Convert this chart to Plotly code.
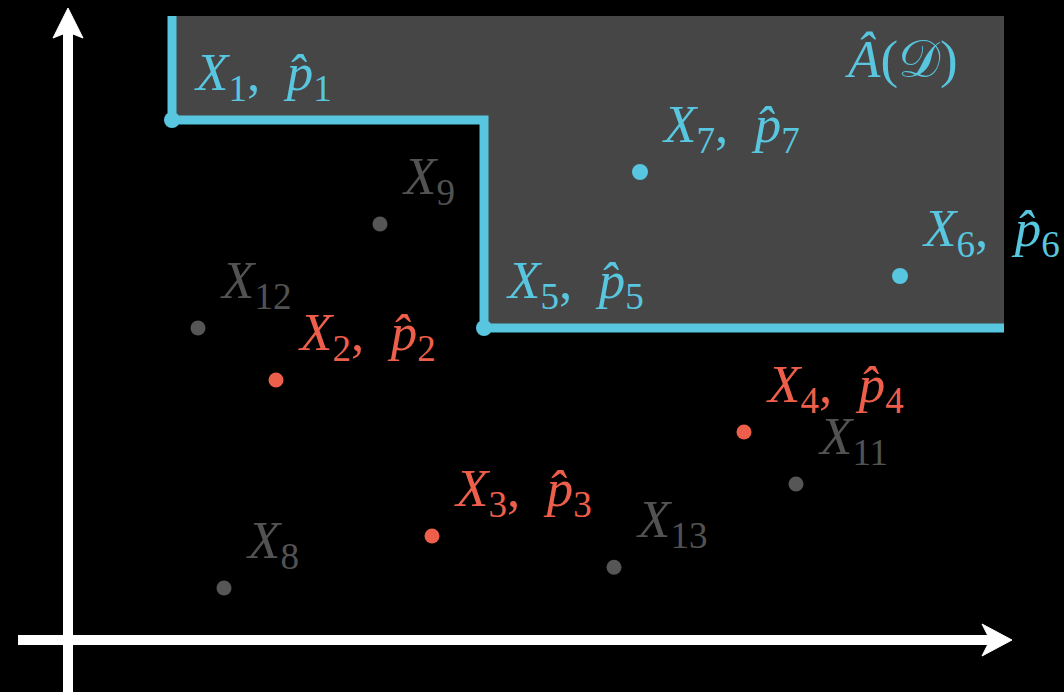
import plotly.graph_objects as go

# ---- data -------------------------------------------------------------
# points shown with estimated probabilities (inside the selected set)
in_names = ["1", "5", "7", "6"]
in_x = [2, 8, 11, 16]
in_y = [10, 6, 9, 7]

# points shown with estimated probabilities (outside the selected set)
out_names = ["2", "3", "4"]
out_x = [4, 7, 13]
out_y = [5, 2, 4]

# remaining unlabelled-probability points
other_names = ["8", "9", "11", "12", "13"]
other_x = [3, 6, 14, 2.5, 10.5]
other_y = [1, 8, 3, 6, 1.4]

# staircase boundary of the selected region  Â(D)
step_x = [2, 2, 8, 8, 18]
step_y = [12, 10, 10, 6, 6]
region_top = 12

# ---- style ------------------------------------------------------------
CYAN = "#58c6df"
RED = "#ee5f4b"
GREY_DOT = "#565656"
GREY_TXT = "#525252"
FILL = "#464646"
FONT = "Liberation Serif"
FS = 53

W, H = 1064, 692
X0_PX, Y0_PX, UNIT = 68, 640, 52  # origin pixel and pixels per unit
x_range = [-X0_PX / UNIT, (W - X0_PX) / UNIT]
y_range = [(Y0_PX - H) / UNIT, Y0_PX / UNIT]


def px(xp, yp):
    """pixel position -> data coordinates"""
    return (xp - X0_PX) / UNIT, (Y0_PX - yp) / UNIT


fig = go.Figure()

# shaded region: polygon above the staircase up to region_top
poly_x = [step_x[0]] + [step_x[-1]] + step_x[::-1]
poly_y = [region_top, region_top] + step_y[::-1]
fig.add_trace(go.Scatter(x=poly_x, y=poly_y, fill="toself", fillcolor=FILL,
                         mode="none", hoverinfo="skip"))

# boundary line
fig.add_trace(go.Scatter(x=step_x, y=step_y, mode="lines",
                         line=dict(color=CYAN, width=9), hoverinfo="skip"))

fig.add_trace(go.Scatter(x=other_x, y=other_y, mode="markers",
                         marker=dict(color=GREY_DOT, size=15)))
fig.add_trace(go.Scatter(x=out_x, y=out_y, mode="markers",
                         marker=dict(color=RED, size=15)))
fig.add_trace(go.Scatter(x=in_x, y=in_y, mode="markers",
                         marker=dict(color=CYAN, size=16)))


def pair_label(n):
    return f"<i>X</i><sub>{n}</sub>,&nbsp;&nbsp;<i>p\u0302</i><sub>{n}</sub>"


annotations = []
for names, xs, ys, col, fmt in [
    (in_names, in_x, in_y, CYAN, pair_label),
    (out_names, out_x, out_y, RED, pair_label),
    (other_names, other_x, other_y, GREY_TXT, lambda n: f"<i>X</i><sub>{n}</sub>"),
]:
    for n, x, y in zip(names, xs, ys):
        annotations.append(dict(
            x=x, y=y, text=fmt(n), showarrow=False,
            xanchor="left", yanchor="middle", xshift=20, yshift=44,
            font=dict(family=FONT, size=FS, color=col)))

annotations.append(dict(
    x=step_x[-1], y=region_top, text="<i>Â</i>(𝒟)", showarrow=False,
    xanchor="right", yanchor="top", xshift=-44, yshift=-12,
    font=dict(family=FONT, size=FS, color=CYAN)))

# axis arrows (shafts + stealth heads)
shapes = []
AX_W = 10
vx_tip = px(68, 8)
vx_notch = px(68, 32)
vx_l, vx_r = px(53, 38), px(83, 38)
hx_tip = px(1012, 640)
hx_notch = px(990, 640)
hx_u, hx_d = px(982, 624), px(982, 656)
bottom = px(68, H + 2)
left = px(18, 640)

shapes.append(dict(type="line", x0=0, y0=bottom[1], x1=0, y1=vx_notch[1] + 0.05,
                   line=dict(color="white", width=AX_W)))
shapes.append(dict(type="line", x0=left[0], y0=0, x1=hx_notch[0] + 0.05, y1=0,
                   line=dict(color="white", width=AX_W)))


def head(tip, a, notch, b):
    return (f"M{tip[0]},{tip[1]} L{a[0]},{a[1]} L{notch[0]},{notch[1]} "
            f"L{b[0]},{b[1]} Z")


shapes.append(dict(type="path", path=head(vx_tip, vx_l, vx_notch, vx_r),
                   fillcolor="white", line=dict(color="white", width=1)))
shapes.append(dict(type="path", path=head(hx_tip, hx_u, hx_notch, hx_d),
                   fillcolor="white", line=dict(color="white", width=1)))

fig.update_layout(
    width=W, height=H,
    margin=dict(l=0, r=0, t=0, b=0),
    paper_bgcolor="black", plot_bgcolor="black",
    showlegend=False,
    xaxis=dict(range=x_range, visible=False, fixedrange=True),
    yaxis=dict(range=y_range, visible=False, fixedrange=True),
    annotations=annotations,
    shapes=shapes,
)

fig.write_html("out.html")
